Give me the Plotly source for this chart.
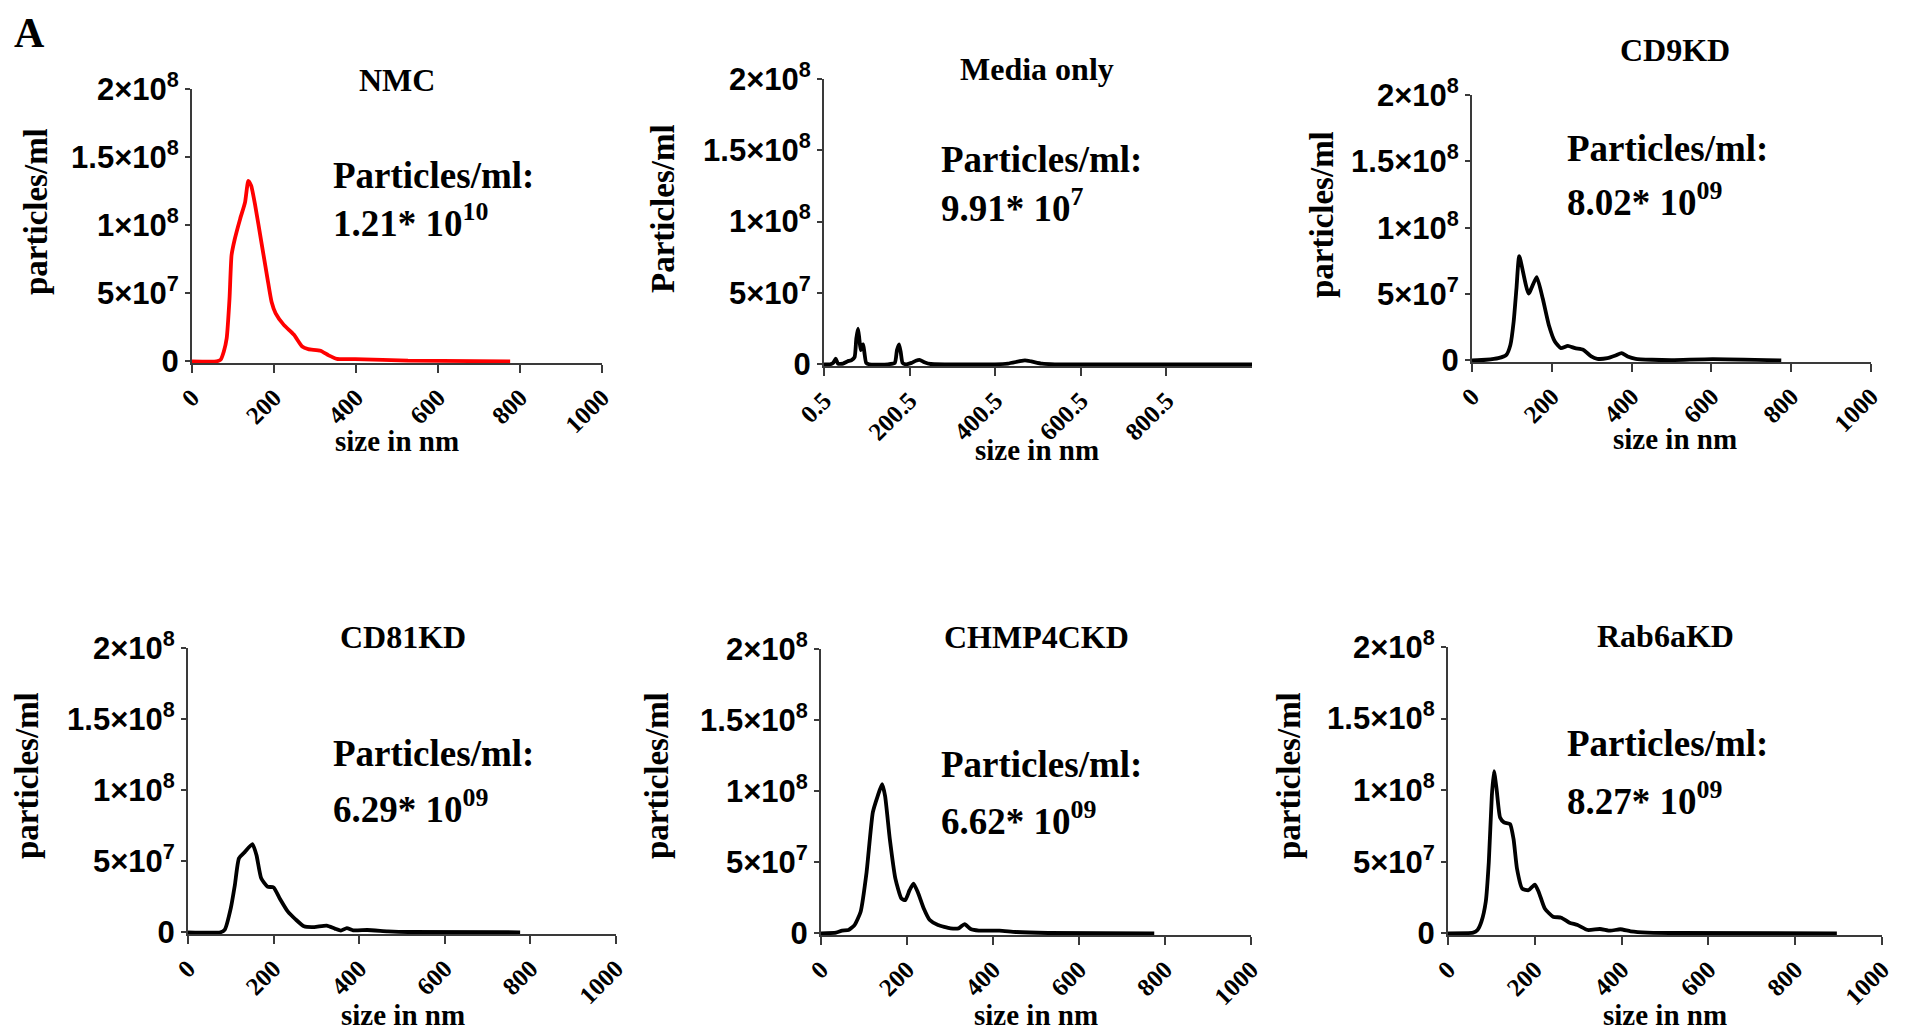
import plotly.graph_objects as go

W, H = 1907, 1032

# ---------------- data (size in nm, concentration in 10^6 particles/ml) ----------------
nmc_size = [0, 60, 69.7, 77.6, 84.6, 91.5, 96.5, 104.5, 117.4, 129.4, 137.3, 144.3, 154.2,
            169.2, 184.1, 194.0, 204.0, 223.9, 248.8, 268.7, 283.6, 313.4, 333.3, 353.2,
            398, 527, 776]
nmc_conc = [0, 0, 1.2, 7.3, 17, 46, 78, 90, 104.6, 116.8, 132.6, 129, 114.4,
            87.6, 60.8, 43.8, 35.3, 26.8, 19.5, 10.9, 9.0, 7.8, 4.4, 1.9,
            1.7, 0.5, 0]

media_size = [0.5, 15, 22, 28, 33, 45, 55, 65, 72, 76, 80, 83, 86, 89, 92, 95, 99, 106,
              150, 166, 171, 176, 180, 184, 192, 205, 215, 225, 235, 250,
              400, 430, 455, 470, 485, 510, 540, 1000.5]
media_conc = [0, 0, 1, 4, 0.5, 0.5, 2, 3, 5, 18, 25, 18, 10, 13, 14, 8, 1, 0,
              0, 1, 10, 14, 8, 1, 0, 1, 2.5, 3, 1.5, 0.2,
              0, 0.5, 2, 2.8, 2, 0.4, 0, 0]

cd9_size = [0, 35.5, 65.9, 86.1, 96.3, 104.4, 111.4, 118.5, 141.8, 162.1, 177.3, 192.5,
            207.7, 222.9, 240.1, 258.4, 278.6, 298.9, 314.1, 339.4, 359.7, 374.9, 390.1,
            410.3, 450.9, 501.5, 602.8, 775.1]
cd9_conc = [0, 0.5, 1.7, 4.2, 11.7, 29.2, 54.1, 78.6, 50.4, 62.8, 46.6, 26.7,
            14.2, 9.2, 11.0, 9.2, 8.0, 3.0, 1.2, 1.7, 3.7, 5.5, 3.0,
            1.2, 0.5, 0.2, 1.0, 0]

cd81_size = [0, 76, 86, 100, 109.5, 119, 133, 150.5, 160, 171, 185.7, 200, 214, 233, 252,
             271, 295, 324, 343, 357, 371, 386, 419, 467, 514, 776]
cd81_conc = [0, 0, 1.9, 17, 33.3, 52, 56.6, 62, 54.3, 38, 32.2, 31.5, 24, 14.7, 8.9,
             4.2, 3.7, 4.7, 2.6, 1.2, 3.0, 1.4, 1.6, 0.7, 0.2, 0]

chmp_size = [0, 35, 49, 64, 78, 92, 106, 120.5, 132, 142, 149, 160, 173, 187, 196, 206,
             215, 225, 239, 253, 272, 301, 320, 334, 348, 367, 415, 453, 528, 775]
chmp_conc = [0, 0.5, 1.9, 2.3, 5.8, 15, 43, 85, 96.7, 104.9, 96.7, 66.4, 38.5, 24.5, 23.3,
             30.3, 35, 29.1, 17.5, 9.3, 5.8, 3.5, 3.5, 6.5, 3.0, 1.9, 1.9, 0.9, 0.2, 0]

rab_size = [0, 58, 68, 77, 87, 94, 101, 106, 112, 120, 129, 143, 151, 159, 171, 185.5, 200,
            209, 223, 242, 261, 280, 298.5, 322, 350, 374, 397, 421, 459, 524, 896]
rab_conc = [0, 0.5, 2.3, 8.1, 22, 49.7, 96, 113.3, 100.6, 80.9, 77.5, 76.3, 65.9, 45.1,
            31.2, 30.1, 34, 28.9, 17.3, 11.6, 10.9, 7.4, 5.8, 2.3, 3.0, 1.8, 2.8, 1.4,
            0.5, 0.2, 0]

titles = ["NMC", "Media only", "CD9KD", "CD81KD", "CHMP4CKD", "Rab6aKD"]
counts = ["1.21* 10<sup>10</sup>", "9.91* 10<sup>7</sup>", "8.02* 10<sup>09</sup>",
          "6.29* 10<sup>09</sup>", "6.62* 10<sup>09</sup>", "8.27* 10<sup>09</sup>"]
ytitles = ["particles/ml", "Particles/ml", "particles/ml",
           "particles/ml", "particles/ml", "particles/ml"]
y_tickvals = [0, 5e7, 1e8, 1.5e8, 2e8]
y_ticktext = ["0", "5×10<sup>7</sup>", "1×10<sup>8</sup>", "1.5×10<sup>8</sup>", "2×10<sup>8</sup>"]
x_tickvals = [0, 200, 400, 600, 800, 1000]
x_ticktext = ["0", "200", "400", "600", "800", "1000"]
media_tickvals = [0.5, 200.5, 400.5, 600.5, 800.5]
media_ticktext = ["0.5", "200.5", "400.5", "600.5", "800.5"]

series = [(nmc_size, nmc_conc, "#ff0000"), (media_size, media_conc, "#000000"),
          (cd9_size, cd9_conc, "#000000"), (cd81_size, cd81_conc, "#000000"),
          (chmp_size, chmp_conc, "#000000"), (rab_size, rab_conc, "#000000")]

# ---------------- layout geometry (pixels) ----------------
boxes = [(192, 602, 89, 363), (824, 1252, 79, 366), (1472, 1871, 95, 362),
         (188, 616, 648, 934), (821, 1251, 649, 935), (1448, 1882, 647, 935)]
title_pos = [(397, 80), (1037, 69), (1675, 50), (403, 637), (1036, 637), (1665, 636)]
label_pos = [(331, 176, 221), (939, 159, 205), (1565, 148, 199),
             (331, 753, 806), (939, 764, 818), (1565, 743, 798)]
ytitle_pos = [(36, 212), (663, 209), (1322, 215), (27, 776), (657, 776), (1289, 776)]
xtitle_pos = [(397, 441), (1037, 450), (1675, 439), (403, 1015), (1036, 1015), (1665, 1015)]


def fx(x):
    return x / W


def fy(y):
    return 1 - y / H


fig = go.Figure()
layout = dict(template="none", width=W, height=H, autosize=False,
              margin=dict(l=0, r=0, t=0, b=0, pad=0, autoexpand=False),
              paper_bgcolor="white", plot_bgcolor="white", showlegend=False)
annotations = []
AXC = "#3a3a3a"
SERIF = "Liberation Serif"
SANS = "Liberation Sans"

for i in range(6):
    k = "" if i == 0 else str(i + 1)
    xs, ys, col = series[i]
    fig.add_trace(go.Scatter(x=xs, y=[v * 1e6 for v in ys], mode="lines",
                             line=dict(color=col, width=3.8, shape="spline", smoothing=0.5),
                             xaxis="x" + k, yaxis="y" + k, hoverinfo="skip"))
    x0, x1, yt, yb = boxes[i]
    if i == 1:
        xr, tv, tt = [0.5, 1000.5], media_tickvals, media_ticktext
    else:
        xr, tv, tt = [0, 1000], x_tickvals, x_ticktext
    layout["xaxis" + k] = dict(domain=[fx(x0), fx(x1)], anchor="y" + k, range=xr,
                               automargin=False,
                               showline=True, linecolor=AXC, linewidth=2,
                               ticks="outside", ticklen=8, tickwidth=2, tickcolor=AXC,
                               tickvals=tv, ticktext=tt, tickangle=-45,
                               tickfont=dict(family=SERIF, size=25, color="black", weight="bold"),
                               showgrid=False, zeroline=False)
    layout["yaxis" + k] = dict(domain=[fy(yb), fy(yt)], anchor="x" + k, range=[-1.2e6, 2e8],
                               automargin=False,
                               showline=True, linecolor=AXC, linewidth=2,
                               ticks="outside", ticklen=5, tickwidth=2, tickcolor=AXC,
                               tickvals=y_tickvals, ticktext=y_ticktext,
                               tickfont=dict(family=SANS, size=31, color="black", weight="bold"),
                               showgrid=False, zeroline=False)
    tx, ty = title_pos[i]
    annotations.append(dict(x=fx(tx), y=fy(ty), xref="paper", yref="paper", text=titles[i],
                            showarrow=False, xanchor="center", yanchor="middle",
                            font=dict(family=SERIF, size=32, color="black", weight="bold")))
    lx, ly1, ly2 = label_pos[i]
    annotations.append(dict(x=fx(lx), y=fy(ly1), xref="paper", yref="paper", text="Particles/ml:",
                            showarrow=False, xanchor="left", yanchor="middle",
                            font=dict(family=SERIF, size=37, color="black", weight="bold")))
    annotations.append(dict(x=fx(lx), y=fy(ly2), xref="paper", yref="paper", text=counts[i],
                            showarrow=False, xanchor="left", yanchor="middle",
                            font=dict(family=SERIF, size=37, color="black", weight="bold")))
    ax_, ay_ = ytitle_pos[i]
    annotations.append(dict(x=fx(ax_), y=fy(ay_), xref="paper", yref="paper", text=ytitles[i],
                            showarrow=False, xanchor="center", yanchor="middle", textangle=-90,
                            font=dict(family=SERIF, size=33, color="black", weight="bold")))
    bx, by = xtitle_pos[i]
    annotations.append(dict(x=fx(bx), y=fy(by), xref="paper", yref="paper", text="size in nm",
                            showarrow=False, xanchor="center", yanchor="middle",
                            font=dict(family=SERIF, size=29, color="black", weight="bold")))

annotations.append(dict(x=fx(12), y=fy(8), xref="paper", yref="paper", text="A",
                        showarrow=False, xanchor="left", yanchor="top",
                        font=dict(family=SERIF, size=42, color="black", weight="bold")))
layout["annotations"] = annotations
fig.update_layout(**layout)
fig.write_html("out.html")
